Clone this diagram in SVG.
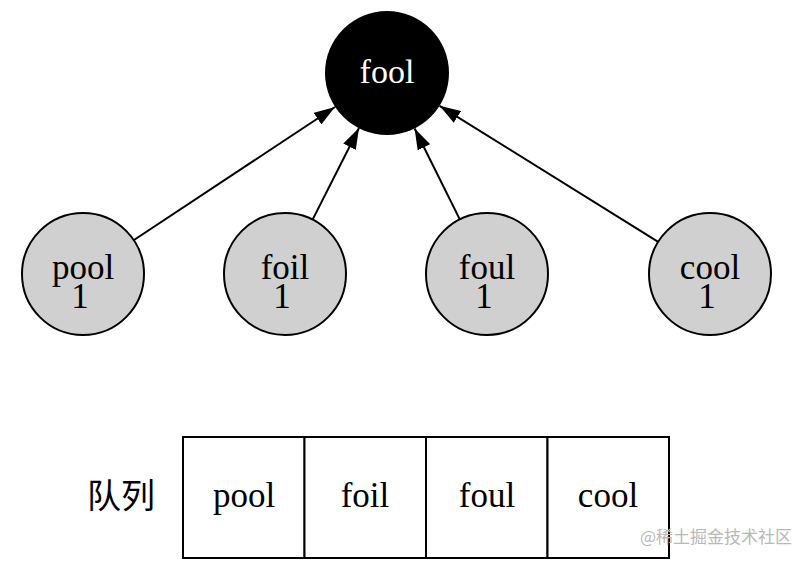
<svg xmlns="http://www.w3.org/2000/svg" width="809" height="563" viewBox="0 0 809 563">
<style>
.child{fill:#d0d0d0;stroke:#000;stroke-width:2}
.t{font-family:"Liberation Serif","Noto Sans CJK SC",serif;font-size:35px;text-anchor:middle;fill:#000}
.edge{stroke:#000;stroke-width:2;fill:none;marker-end:url(#ah)}
.cell{fill:#fff;stroke:#000;stroke-width:2}
</style>
<defs>
<marker id="ah" markerUnits="userSpaceOnUse" markerWidth="21" markerHeight="14" refX="21" refY="7" orient="auto">
<path d="M0,0 L21,7 L0,14 z" fill="#000"/>
</marker>
</defs>
<rect width="809" height="563" fill="#fff"/>
<g id="connectors">
<line class="edge" x1="134" y1="240" x2="335" y2="107"/>
<line class="edge" x1="312.6" y1="219.6" x2="359" y2="128"/>
<line class="edge" x1="459.8" y1="219.4" x2="414.6" y2="128.5"/>
<line class="edge" x1="658.2" y1="241.8" x2="439.6" y2="105.8"/>
</g>
<g id="fool">
<circle cx="387" cy="73" r="62" fill="#000"/>
<text class="t" x="387" y="83" style="fill:#fff;font-size:34px">fool</text>
</g>
<g id="pool">
<circle class="child" cx="83" cy="274" r="61"/>
<text class="t"><tspan x="83" y="279">pool</tspan><tspan x="80" y="308">1</tspan></text>
</g>
<g id="foil">
<circle class="child" cx="285" cy="274" r="61"/>
<text class="t"><tspan x="285" y="279">foil</tspan><tspan x="282" y="308">1</tspan></text>
</g>
<g id="foul">
<circle class="child" cx="487" cy="274" r="61"/>
<text class="t"><tspan x="487" y="279">foul</tspan><tspan x="484" y="308">1</tspan></text>
</g>
<g id="cool">
<circle class="child" cx="710" cy="274" r="61"/>
<text class="t"><tspan x="710" y="279">cool</tspan><tspan x="707" y="308">1</tspan></text>
</g>
<g id="queue">
<text class="t" x="121" y="508" style="font-size:34px">队列</text>
<rect class="cell" x="183" y="437" width="121.5" height="121"/>
<rect class="cell" x="304.5" y="437" width="121.5" height="121"/>
<rect class="cell" x="426" y="437" width="121.5" height="121"/>
<rect class="cell" x="547.5" y="437" width="121.5" height="121"/>
<text class="t" x="244" y="507">pool</text>
<text class="t" x="365" y="507">foil</text>
<text class="t" x="487" y="507">foul</text>
<text class="t" x="608" y="507">cool</text>
</g>
<text x="716" y="543" font-family="'Noto Sans CJK SC',sans-serif" font-size="17" fill="#b8b8b8" text-anchor="middle">@稀土掘金技术社区</text>
</svg>
